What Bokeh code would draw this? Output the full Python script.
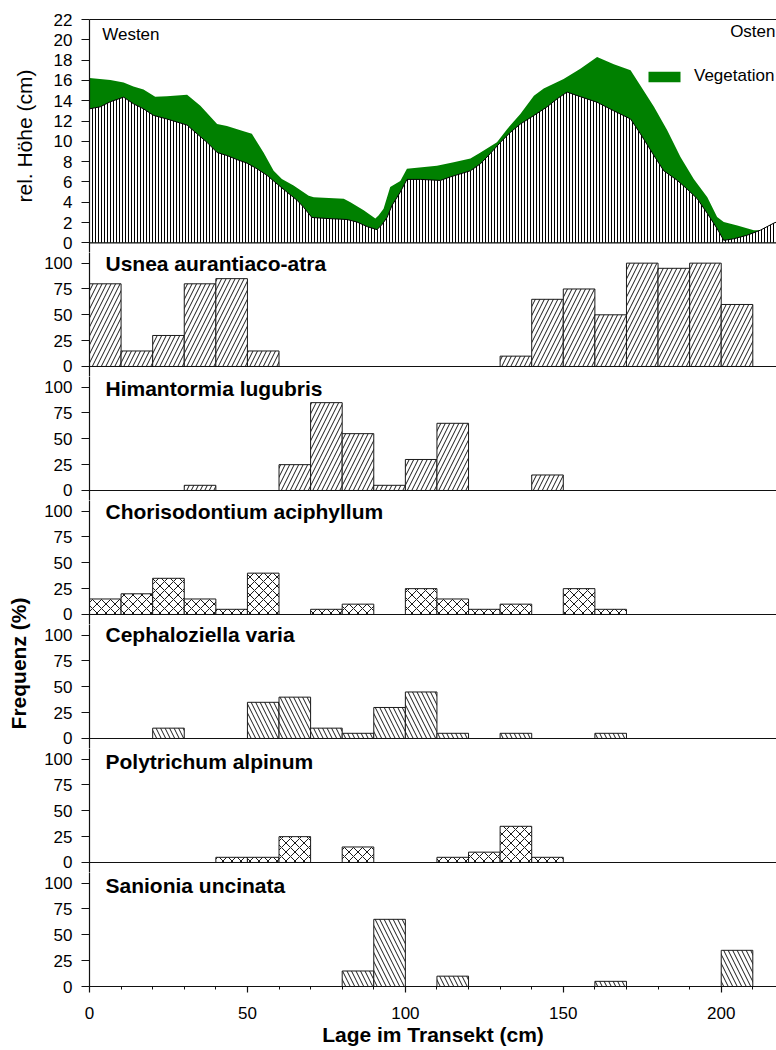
import math
from bokeh.plotting import figure
from bokeh.layouts import column, row
from bokeh.models import (Range1d, LinearAxis, FixedTicker, SingleIntervalTicker,
                          Span, Label, Legend, LegendItem, ColumnDataSource)
from bokeh.embed import file_html
from bokeh.resources import INLINE

FONT = "Liberation Sans"

# ---------------- data ----------------
# histogram bins along the transect (cm), 10 cm wide
BIN_STARTS = [0, 10, 20, 30, 40, 50, 60, 70, 80, 90, 100,
              110, 120, 130, 140, 150, 160, 170, 180, 190, 200]
BIN_WIDTH = 10

SPECIES = ["Usnea aurantiaco-atra", "Himantormia lugubris", "Chorisodontium aciphyllum",
           "Cephaloziella varia", "Polytrichum alpinum", "Sanionia uncinata"]

usnea = [80, 15, 30, 80, 85, 15, 0, 0, 0, 0, 0, 0, 0, 10, 65, 75, 50, 100, 95, 100, 60]
himantormia = [0, 0, 0, 5, 0, 0, 25, 85, 55, 5, 30, 65, 0, 0, 15, 0, 0, 0, 0, 0, 0]
chorisodontium = [15, 20, 35, 15, 5, 40, 0, 5, 10, 0, 25, 15, 5, 10, 0, 25, 5, 0, 0, 0, 0]
cephaloziella = [0, 0, 10, 0, 0, 35, 40, 10, 5, 30, 45, 5, 0, 5, 0, 0, 5, 0, 0, 0, 0]
polytrichum = [0, 0, 0, 0, 5, 5, 25, 0, 15, 0, 0, 5, 10, 35, 5, 0, 0, 0, 0, 0, 0]
sanionia = [0, 0, 0, 0, 0, 0, 0, 0, 15, 65, 0, 10, 0, 0, 0, 0, 5, 0, 0, 0, 35]

# relative height profile (cm): ground surface
ground_x = [0, 3.4, 6.6, 10.8, 13.9, 17.1, 20.3, 24.5, 27.7, 30.9,
            34.0, 37.2, 40.4, 43.5, 46.7, 49.9, 53.0, 56.2, 59.4, 62.5,
            65.7, 67.8, 70.4, 75.2, 81.5, 84.7, 87.9, 91.0, 92.6, 94.2,
            95.8, 97.4, 98.4, 100.5, 104.8, 111.1, 114.3, 120.6, 123.8, 126.9,
            130.1, 133.3, 136.4, 140.7, 144.9, 148.1, 151.2, 155.4, 160.7, 166.0,
            171.3, 174.4, 178.7, 181.8, 186.1, 189.2, 192.4, 195.6, 198.7, 200.8,
            204.0, 208.2, 212.4, 216.7, 217.5]
ground_h = [13.2, 13.4, 13.9, 14.35, 13.7, 13.2, 12.55, 12.2, 11.9, 11.6,
            10.75, 9.9, 8.9, 8.6, 8.2, 7.85, 7.3, 6.65, 5.8, 5.0,
            4.2, 3.5, 2.5, 2.4, 2.3, 2.05, 1.6, 1.3, 1.8, 2.5,
            3.7, 4.5, 5.0, 6.25, 6.25, 6.15, 6.5, 7.1, 7.8, 8.8,
            9.9, 10.9, 11.7, 12.55, 13.4, 14.2, 14.85, 14.4, 13.85, 13.0,
            12.2, 10.75, 8.6, 7.1, 6.15, 5.3, 4.35, 2.9, 1.4, 0.25,
            0.4, 0.75, 1.25, 1.95, 2.05]

# top of vegetation (cm)
veg_x = [0, 6.6, 10.8, 13.9, 17.1, 20.8, 24.5, 30.9, 35.1, 40.4,
         43.5, 48.8, 51.4, 55.1, 58.3, 60.9, 64.6, 69.4, 71.0, 80.5,
         82.6, 86.8, 90.5, 91.5, 93.1, 95.2, 98.4, 100.5, 110.0, 115.3,
         120.6, 123.8, 129.0, 132.2, 136.4, 140.7, 143.8, 150.1, 155.4, 160.7,
         166.0, 171.3, 174.4, 178.7, 182.9, 187.1, 191.3, 195.6, 198.7, 200.8,
         205.1, 210.3, 212.4, 216.7, 217.5]
veg_h = [16.25, 16.05, 15.8, 15.4, 15.1, 14.4, 14.45, 14.6, 13.5, 11.7,
         11.5, 11.0, 10.75, 8.9, 7.1, 6.3, 5.65, 4.65, 4.5, 4.35,
         4.0, 3.2, 2.4, 2.7, 3.35, 5.5, 6.1, 7.3, 7.6, 7.95,
         8.3, 8.9, 9.9, 11.2, 12.7, 14.5, 15.2, 16.15, 17.15, 18.3,
         17.6, 17.0, 15.5, 13.4, 11.1, 8.45, 6.3, 4.5, 2.55, 2.05,
         1.7, 1.25, 1.25, 1.95, 2.05]

Y_TICKS_TOP = [0, 2, 4, 6, 8, 10, 12, 14, 16, 18, 20, 22]
Y_TICKS_HIST = [0, 25, 50, 75, 100]

# ---------------- layout / style ----------------
FRAME_W = 687
X_MAX = 217.5
LEFT_TOP = 89
LABEL_COL_W = 38
LEFT_HIST = LEFT_TOP - LABEL_COL_W
TOP_BORDER = 19
TOP_FRAME_H = 233
TOP_BELOW = 0.95
HIST_FRAME_H = 124
HIST_BELOW = 9.7
HIST_TOP = 120 - HIST_BELOW
LAST_FRAME_H = 114
HATCHES = ["/", "/", "x", "\\", "x", "\\"]
LABEL_Y = [99.7, 98.8, 99.8, 100.3, 97.9, 97.9]
TICK_FS = "17px"
AXIS_W = 1.2
AXIS_C = "#111111"
TXT_C = "black"


def style_left_axis(ax, ticks):
    ax.ticker = FixedTicker(ticks=ticks)
    ax.major_tick_out = 8
    ax.major_tick_in = 0
    ax.minor_tick_out = 0
    ax.minor_tick_in = 0
    ax.major_label_standoff = 9
    ax.major_label_text_font = FONT
    ax.major_label_text_font_size = TICK_FS
    ax.major_label_text_color = TXT_C
    ax.axis_label_text_color = TXT_C
    ax.axis_line_width = AXIS_W
    ax.axis_line_color = AXIS_C
    ax.major_tick_line_color = AXIS_C
    ax.major_tick_line_width = AXIS_W


def base_fig(frame_h, y_range, left):
    p = figure(frame_width=FRAME_W, frame_height=frame_h,
               x_range=Range1d(0, X_MAX), y_range=y_range,
               output_backend="svg", toolbar_location=None,
               min_border=0, min_border_left=left,
               x_axis_location=None)
    p.grid.visible = False
    p.outline_line_color = None
    p.background_fill_color = "white"
    p.border_fill_color = "white"
    return p


# ---------------- top profile panel ----------------
tp = base_fig(TOP_FRAME_H, Range1d(-TOP_BELOW, 22), LEFT_TOP)
tp.min_border_top = TOP_BORDER
veg = tp.varea(x=veg_x, y1=0, y2=veg_h, fill_color="#008000", fill_alpha=1.0)
tp.varea(x=ground_x, y1=0, y2=ground_h, fill_color="white",
         hatch_pattern="|", hatch_scale=3, hatch_weight=1, hatch_color="black")
tp.line(ground_x, ground_h, line_color="black", line_width=1)
style_left_axis(tp.yaxis[0], Y_TICKS_TOP)
tp.yaxis[0].axis_label = "rel. Höhe (cm)"
tp.yaxis[0].axis_label_text_font = FONT
tp.yaxis[0].axis_label_text_font_size = "21px"
tp.yaxis[0].axis_label_text_font_style = "normal"
tp.yaxis[0].axis_label_standoff = 15
top_axis = LinearAxis(ticker=FixedTicker(ticks=[]), major_tick_out=0, major_tick_in=0,
                      minor_tick_out=0, minor_tick_in=0, major_label_standoff=0,
                      axis_line_color=AXIS_C, axis_line_width=AXIS_W)
tp.add_layout(top_axis, "above")
tp.add_layout(Span(location=0, dimension="width", line_color=AXIS_C, line_width=AXIS_W))
tp.add_layout(Label(x=12.7, y=218.3, x_units="screen", y_units="screen", text="Westen",
                    text_font=FONT, text_font_size="17px", text_baseline="alphabetic",
                    text_color=TXT_C))
tp.add_layout(Label(x=686, y=220.7, x_units="screen", y_units="screen", text="Osten",
                    text_font=FONT, text_font_size="17px", text_baseline="alphabetic",
                    text_align="right", text_color=TXT_C))
legend = Legend(items=[LegendItem(label="Vegetation", renderers=[veg])],
                location=(555, 166), padding=0, margin=0, spacing=0,
                glyph_width=40, glyph_height=13, label_standoff=10,
                label_text_font=FONT, label_text_font_size="17px", label_text_color=TXT_C,
                border_line_color=None, background_fill_alpha=0)
tp.add_layout(legend)

# ---------------- histogram panels ----------------
series = [usnea, himantormia, chorisodontium, cephaloziella, polytrichum, sanionia]
hist_figs = []
for i, (name, vals) in enumerate(zip(SPECIES, series)):
    last = i == len(SPECIES) - 1
    if last:
        p = figure(frame_width=FRAME_W, frame_height=LAST_FRAME_H,
                   x_range=Range1d(0, X_MAX), y_range=Range1d(0, HIST_TOP),
                   output_backend="svg", toolbar_location=None,
                   min_border=0, min_border_left=LEFT_HIST)
        p.grid.visible = False
        p.outline_line_color = None
        xa = p.xaxis[0]
        xa.ticker = SingleIntervalTicker(interval=50, num_minor_ticks=5)
        xa.major_tick_out = 6
        xa.major_tick_in = 0
        xa.minor_tick_out = 3
        xa.minor_tick_in = 0
        xa.major_label_standoff = 14
        xa.major_label_text_font = FONT
        xa.major_label_text_font_size = TICK_FS
        xa.major_label_text_color = TXT_C
        xa.axis_line_width = AXIS_W
        xa.axis_line_color = AXIS_C
        xa.major_tick_line_color = AXIS_C
        xa.minor_tick_line_color = AXIS_C
        xa.major_tick_line_width = AXIS_W
        xa.axis_label = "Lage im Transekt (cm)"
        xa.axis_label_text_font = FONT
        xa.axis_label_text_font_size = "21px"
        xa.axis_label_text_font_style = "bold"
        xa.axis_label_text_color = TXT_C
        xa.axis_label_standoff = 1
    else:
        p = base_fig(HIST_FRAME_H, Range1d(-HIST_BELOW, HIST_TOP), LEFT_HIST)
        p.add_layout(Span(location=0, dimension="width", line_color=AXIS_C, line_width=AXIS_W))
    style_left_axis(p.yaxis[0], Y_TICKS_HIST)
    src = ColumnDataSource(dict(
        left=[s for s, v in zip(BIN_STARTS, vals) if v > 0],
        right=[s + BIN_WIDTH for s, v in zip(BIN_STARTS, vals) if v > 0],
        top=[v for v in vals if v > 0],
    ))
    p.quad(left="left", right="right", bottom=0, top="top", source=src,
           fill_color="white", line_color="#1a1a1a", line_width=1,
           hatch_pattern=HATCHES[i], hatch_scale=9, hatch_weight=0.9, hatch_color="black")
    p.add_layout(Label(x=16, y=LABEL_Y[i], x_units="screen", y_units="data", text=name,
                       text_font=FONT, text_font_size="21px", text_font_style="bold",
                       text_baseline="alphabetic", text_color=TXT_C))
    hist_figs.append(p)

# ---------------- y label column ----------------
HIST_TOTAL = HIST_FRAME_H * 5 + LAST_FRAME_H
lf = figure(width=LABEL_COL_W, height=HIST_TOTAL, x_range=Range1d(0, 1), y_range=Range1d(0, 1),
            output_backend="svg", toolbar_location=None, min_border=0,
            x_axis_location=None, y_axis_location=None)
lf.grid.visible = False
lf.outline_line_color = None
lf.add_layout(Label(x=18, y=HIST_TOTAL - 411, x_units="screen", y_units="screen",
                    text="Frequenz (%)", angle=math.pi / 2, text_align="center",
                    text_baseline="middle", text_font=FONT, text_font_size="21px",
                    text_font_style="bold", text_color=TXT_C))

layout = column(tp, row(lf, column(*hist_figs, spacing=0), spacing=0), spacing=0)

with open("out.html", "w") as f:
    f.write(file_html(layout, INLINE))
